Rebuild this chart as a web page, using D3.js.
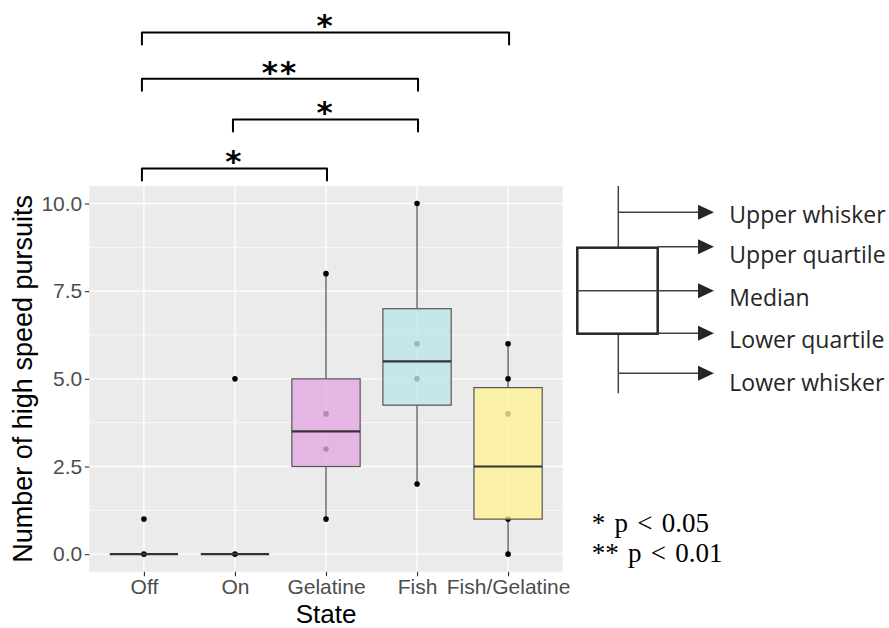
<!DOCTYPE html>
<html>
<head>
<meta charset="utf-8">
<script src="https://cdn.jsdelivr.net/npm/d3@7"></script>
<style>
  html, body { margin: 0; padding: 0; background: #fff; }
  svg { display: block; }
</style>
</head>
<body>
<svg id="chart" width="889" height="628"></svg>
<script>
// ---------- data ----------
const categories   = ["Off", "On", "Gelatine", "Fish", "Fish/Gelatine"];
const q1Values     = [0, 0, 2.5, 4.25, 1];
const medianValues = [0, 0, 3.5, 5.5, 2.5];
const q3Values     = [0, 0, 5, 7, 4.75];
const whiskerLow   = [0, 0, 1, 2, 0];
const whiskerHigh  = [0, 0, 8, 10, 6];
const pointValues  = [[0, 1], [0, 5], [1, 3, 4, 8], [2, 5, 6, 10], [0, 1, 4, 5, 6]];
const fillColors   = [null, null, "#E4A9E1", "#BCE6EA", "#FFF197"];
const yTicks       = [0, 2.5, 5, 7.5, 10];
const yMinorTicks  = [1.25, 3.75, 6.25, 8.75];
const yTickLabels  = ["0.0", "2.5", "5.0", "7.5", "10.0"];
// significance comparisons: [from, to, bracket height (y units), label]
const compFrom     = ["Off", "On", "Off", "Off"];
const compTo       = ["Gelatine", "Fish", "Fish", "Fish/Gelatine"];
const compLevel    = [11.0, 12.4, 13.56, 14.88];
const compLabel    = ["*", "*", "**", "*"];
const legendLabels = ["Upper whisker", "Upper quartile", "Median", "Lower quartile", "Lower whisker"];
const pLegend      = ["* p < 0.05", "** p < 0.01"];

// ---------- layout ----------
const svg = d3.select("#chart");
const P = { left: 89.3, right: 562.7, top: 186, bottom: 571.7 };

const x = d3.scalePoint().domain(categories).range([P.left, P.right]).padding(0.6);
const y = d3.scaleLinear().domain([-0.5, 10.5]).range([P.bottom, P.top]);
const boxW = x.step() * 0.75;

// panel background
svg.append("rect")
  .attr("x", P.left).attr("y", P.top)
  .attr("width", P.right - P.left).attr("height", P.bottom - P.top)
  .attr("fill", "#EBEBEB");

// grid
const grid = svg.append("g");
grid.selectAll("line.minor").data(yMinorTicks).join("line")
  .attr("x1", P.left).attr("x2", P.right)
  .attr("y1", d => y(d)).attr("y2", d => y(d))
  .attr("stroke", "#fff").attr("stroke-width", 0.7);
grid.selectAll("line.majy").data(yTicks).join("line")
  .attr("x1", P.left).attr("x2", P.right)
  .attr("y1", d => y(d)).attr("y2", d => y(d))
  .attr("stroke", "#fff").attr("stroke-width", 1.3);
grid.selectAll("line.majx").data(categories).join("line")
  .attr("x1", d => x(d)).attr("x2", d => x(d))
  .attr("y1", P.top).attr("y2", P.bottom)
  .attr("stroke", "#fff").attr("stroke-width", 1.3);

// boxes data
const boxes = categories.map((c, i) => ({
  cat: c, q1: q1Values[i], med: medianValues[i], q3: q3Values[i],
  lo: whiskerLow[i], hi: whiskerHigh[i], pts: pointValues[i], fill: fillColors[i]
}));

const gB = svg.append("g");
// whiskers
boxes.forEach(b => {
  if (b.hi > b.q3) gB.append("line")
    .attr("x1", x(b.cat)).attr("x2", x(b.cat))
    .attr("y1", y(b.q3)).attr("y2", y(b.hi))
    .attr("stroke", "#3a3a3a").attr("stroke-width", 1.1);
  if (b.lo < b.q1) gB.append("line")
    .attr("x1", x(b.cat)).attr("x2", x(b.cat))
    .attr("y1", y(b.q1)).attr("y2", y(b.lo))
    .attr("stroke", "#3a3a3a").attr("stroke-width", 1.1);
});
// points (beneath the semi-transparent boxes)
boxes.forEach(b => {
  gB.selectAll(null).data(b.pts).join("circle")
    .attr("cx", x(b.cat)).attr("cy", d => y(d))
    .attr("r", 2.8).attr("fill", "#000");
});
// box bodies
boxes.forEach(b => {
  gB.append("rect")
    .attr("x", x(b.cat) - boxW / 2).attr("y", y(b.q3))
    .attr("width", boxW).attr("height", y(b.q1) - y(b.q3))
    .attr("fill", b.fill || "none").attr("fill-opacity", 0.8)
    .attr("stroke", "#555").attr("stroke-width", 1.2);
  gB.append("line")
    .attr("x1", x(b.cat) - boxW / 2).attr("x2", x(b.cat) + boxW / 2)
    .attr("y1", y(b.med)).attr("y2", y(b.med))
    .attr("stroke", "#333").attr("stroke-width", 2.2);
});

// axes
const yAxis = d3.axisLeft(y).tickValues(yTicks).tickFormat((d, i) => yTickLabels[i])
  .tickSize(4.5).tickPadding(2.5);
const gy = svg.append("g").attr("transform", `translate(${P.left},0)`).call(yAxis);
gy.select(".domain").remove();
gy.selectAll(".tick line").attr("stroke", "#333").attr("stroke-width", 1.1);
gy.selectAll(".tick text").attr("fill", "#4D4D4D")
  .style("font-family", "'Liberation Sans', Arial, sans-serif").style("font-size", "21px");

const xAxis = d3.axisBottom(x).tickSize(4.5).tickPadding(3);
const gx = svg.append("g").attr("transform", `translate(0,${P.bottom})`).call(xAxis);
gx.select(".domain").remove();
gx.selectAll(".tick line").attr("stroke", "#333").attr("stroke-width", 1.1);
gx.selectAll(".tick text").attr("fill", "#4D4D4D")
  .style("font-family", "'Liberation Sans', Arial, sans-serif").style("font-size", "21px");

// axis titles
svg.append("text")
  .attr("x", (P.left + P.right) / 2).attr("y", 623.3)
  .attr("text-anchor", "middle")
  .style("font-family", "'Liberation Sans', Arial, sans-serif").style("font-size", "26px")
  .attr("fill", "#000").text("State");
svg.append("text")
  .attr("transform", `translate(32.3,${(P.top + P.bottom) / 2}) rotate(-90)`)
  .attr("text-anchor", "middle")
  .style("font-family", "'Liberation Sans', Arial, sans-serif").style("font-size", "27px")
  .attr("fill", "#000").text("Number of high speed pursuits");

// significance brackets
const gS = svg.append("g");
compFrom.forEach((f, i) => {
  const x1 = x(f) - 2, x2 = x(compTo[i]) + 1, yy = y(compLevel[i]);
  gS.append("path")
    .attr("d", `M${x1},${yy + 12}V${yy}H${x2}V${yy + 12}`)
    .attr("fill", "none").attr("stroke", "#000").attr("stroke-width", 2)
    .attr("stroke-linejoin", "round").attr("stroke-linecap", "round");
  gS.append("text")
    .attr("x", (x1 + x2) / 2).attr("y", yy + 4)
    .attr("text-anchor", "middle")
    .style("font-family", "'DejaVu Sans', sans-serif").style("font-weight", "bold")
    .style("font-size", "31px").style("letter-spacing", "2px")
    .attr("fill", "#000").text(compLabel[i]);
});

// box-plot key (schematic)
const gL = svg.append("g").attr("stroke", "#404040").attr("fill", "none");
const kx = 618.3, boxL = 577.3, boxR = 657.7, tip = 714;
gL.append("line").attr("x1", kx).attr("x2", kx).attr("y1", 186).attr("y2", 247.7).attr("stroke-width", 1.5);
gL.append("line").attr("x1", kx).attr("x2", kx).attr("y1", 333.7).attr("y2", 393.3).attr("stroke-width", 1.5);
gL.append("rect").attr("x", boxL).attr("y", 247.7).attr("width", boxR - boxL).attr("height", 333.7 - 247.7)
  .attr("stroke", "#262626").attr("stroke-width", 2.5);
gL.append("line").attr("x1", boxL).attr("x2", boxR).attr("y1", 290.7).attr("y2", 290.7).attr("stroke-width", 1.5);
const arrowY = [212.3, 246.7, 290.7, 333.3, 373.3];
const arrowX0 = [kx, boxR, boxR, boxR, kx];
const textBase = [222.7, 263.3, 306, 348.3, 390.7];
legendLabels.forEach((lab, i) => {
  gL.append("line").attr("x1", arrowX0[i]).attr("x2", tip - 10).attr("y1", arrowY[i]).attr("y2", arrowY[i])
    .attr("stroke-width", 1.5);
  gL.append("path")
    .attr("d", `M${tip - 16},${arrowY[i] - 7.5}L${tip},${arrowY[i]}L${tip - 16},${arrowY[i] + 7.5}Z`)
    .attr("fill", "#262626").attr("stroke", "none");
  svg.append("text").attr("x", 729.3).attr("y", textBase[i])
    .style("font-family", "'Open Sans', sans-serif").style("font-size", "23px")
    .attr("fill", "#262626").text(lab);
});

// p-value key
pLegend.forEach((t, i) => {
  svg.append("text").attr("x", 591.7).attr("y", 531.7 + i * 30)
    .style("font-family", "'Liberation Serif', 'Times New Roman', serif").style("font-size", "27px")
    .style("word-spacing", "2.5px")
    .attr("fill", "#000").text(t);
});
</script>
</body>
</html>
